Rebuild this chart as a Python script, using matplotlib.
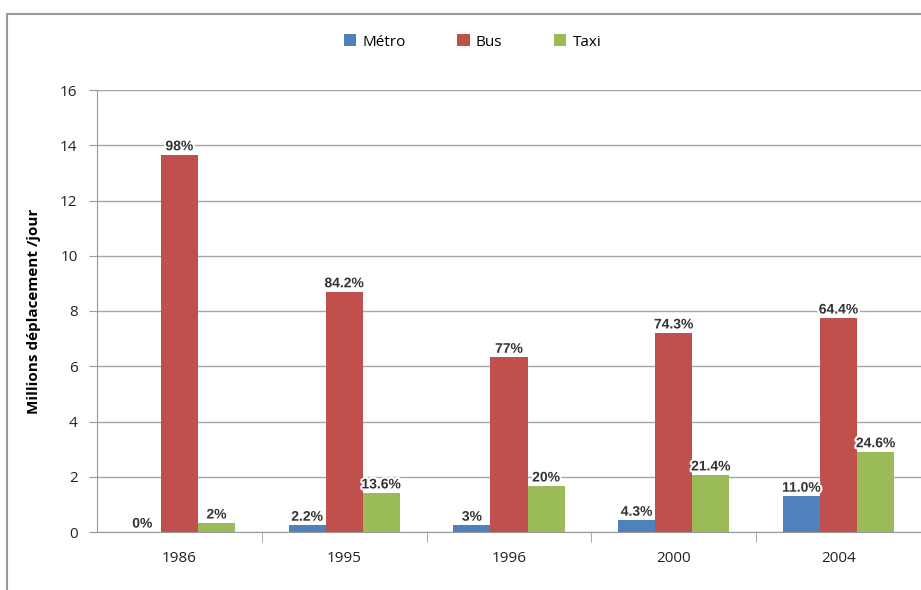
import matplotlib.pyplot as plt
import matplotlib.patheffects as pe
import numpy as np

plt.rcParams['font.family'] = ['Open Sans', 'DejaVu Sans']

years = ['1986', '1995', '1996', '2000', '2004']
metro = [0.0, 0.25, 0.25, 0.43, 1.30]
bus = [13.66, 8.70, 6.33, 7.21, 7.75]
taxi = [0.33, 1.42, 1.67, 2.07, 2.91]
metro_pct = ['0%', '2.2%', '3%', '4.3%', '11.0%']
bus_pct = ['98%', '84.2%', '77%', '74.3%', '64.4%']
taxi_pct = ['2%', '13.6%', '20%', '21.4%', '24.6%']

colors = ['#4F81BD', '#C0504D', '#9BBB59']

fig = plt.figure(figsize=(9.21, 5.90), dpi=100)
ax = fig.add_axes([97 / 921, 58 / 590, 1 - 97 / 921, 442 / 590])

x = np.arange(len(years))
w = 0.225
series = [('Métro', metro, metro_pct), ('Bus', bus, bus_pct), ('Taxi', taxi, taxi_pct)]
for i, (name, vals, pcts) in enumerate(series):
    pos = x + (i - 1) * w
    ax.bar(pos, vals, w, color=colors[i], label=name, zorder=3)
    for xp, v, p in zip(pos, vals, pcts):
        ax.text(xp, v + 0.05, p, ha='center', va='bottom', fontsize=10,
                fontweight='bold', family='Liberation Sans', color='#333333',
                zorder=4,
                path_effects=[pe.withStroke(linewidth=3, foreground='white')])

ax.set_xlim(-0.5, len(years) - 0.5)
ax.set_ylim(0, 16)
ax.set_yticks(range(0, 17, 2))
ax.set_xticks(x)
ax.set_xticklabels(years)
ax.set_xticks(np.arange(0.5, len(years) - 0.5, 1), minor=True)
ax.tick_params(axis='x', which='major', length=0, pad=14, labelsize=11, colors='#222222')
ax.tick_params(axis='x', which='minor', length=7, color='#999999', direction='out')
ax.tick_params(axis='y', length=6, color='#999999', labelsize=11, colors='#222222', pad=8)
ax.grid(axis='y', color='#a6a6a6', linewidth=1, zorder=0)
for s in ['top', 'right']:
    ax.spines[s].set_visible(False)
ax.spines['left'].set_color('#999999')
ax.spines['bottom'].set_color('#999999')
ax.set_ylabel('Millions déplacement /jour', fontsize=11, fontweight='bold', labelpad=14)

fig.legend(loc='upper center', bbox_to_anchor=(0.513, 0.965), ncol=3, frameon=False,
           fontsize=11, handlelength=0.8, handleheight=0.8, handletextpad=0.4,
           columnspacing=3.4)

# chart frame
fig.add_artist(plt.Line2D([7 / 921, 7 / 921], [0, 1 - 14 / 590], color='#999999', lw=1.5))
fig.add_artist(plt.Line2D([7 / 921, 1], [1 - 14 / 590, 1 - 14 / 590], color='#999999', lw=1.5))

fig.savefig('out.png', dpi=100)
